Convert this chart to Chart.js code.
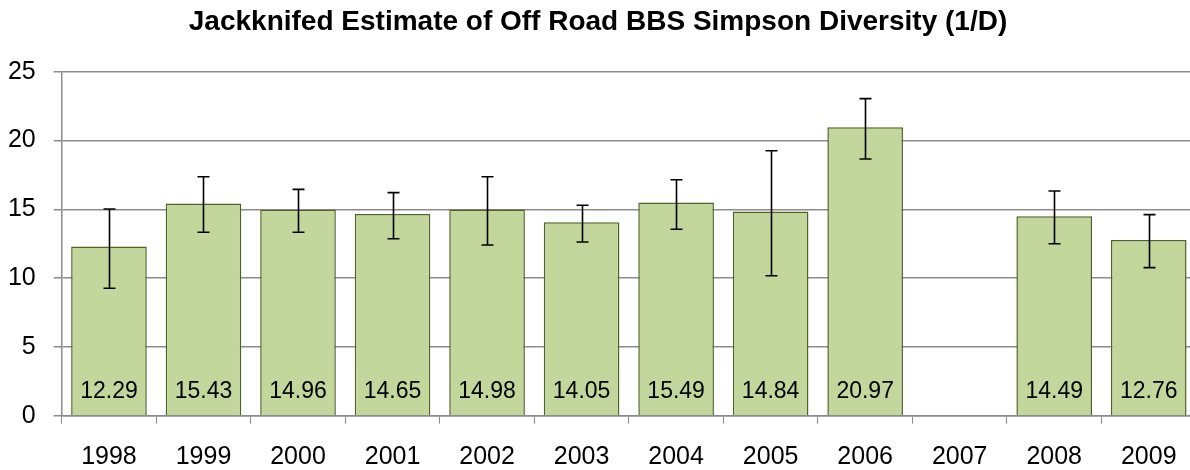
<!DOCTYPE html>
<html>
<head>
<meta charset="utf-8">
<script src="https://cdn.jsdelivr.net/npm/chart.js@4.4.0/dist/chart.umd.min.js"></script>
<style>
  html, body { margin: 0; padding: 0; background: #fff; overflow: hidden; }
  #wrap { width: 1196px; height: 470px; }
</style>
</head>
<body>
<div id="wrap"><canvas id="diversity-chart" width="1196" height="470"></canvas></div>
<script>
// Data
const years = ['1998', '1999', '2000', '2001', '2002', '2003', '2004', '2005', '2006', '2007', '2008', '2009'];
const diversity = [12.29, 15.43, 14.96, 14.65, 14.98, 14.05, 15.49, 14.84, 20.97, null, 14.49, 12.76];
const errorLow  = [9.26, 13.33, 13.33, 12.86, 12.41, 12.62, 13.55, 10.17, 18.66, null, 12.50, 10.76];
const errorHigh = [15.02, 17.37, 16.45, 16.21, 17.37, 15.29, 17.15, 19.26, 23.04, null, 16.33, 14.61];
const yTicks = [0, 5, 10, 15, 20, 25];

const FONT = "'Liberation Sans', Arial, sans-serif";
const GRID = '#8c8c8c';

// Error bars drawn through the chart scales
const errorBars = {
    id: 'errorBars',
    afterDatasetsDraw(chart) {
        const ctx = chart.ctx;
        const x = chart.scales.x;
        const y = chart.scales.y;
        ctx.save();
        ctx.strokeStyle = '#000';
        ctx.lineWidth = 1.6;
        errorLow.forEach((lo, i) => {
            if (lo === null) return;
            const cx = Math.round(x.getPixelForValue(i)) + 0.5;
            const yLo = y.getPixelForValue(lo);
            const yHi = y.getPixelForValue(errorHigh[i]);
            ctx.beginPath();
            ctx.moveTo(cx, yLo);
            ctx.lineTo(cx, yHi);
            ctx.moveTo(cx - 6, yLo);
            ctx.lineTo(cx + 6, yLo);
            ctx.moveTo(cx - 6, yHi);
            ctx.lineTo(cx + 6, yHi);
            ctx.stroke();
        });
        ctx.restore();
    }
};

// Value labels at the foot of each bar
const valueLabels = {
    id: 'valueLabels',
    afterDatasetsDraw(chart) {
        const ctx = chart.ctx;
        const x = chart.scales.x;
        const y = chart.scales.y;
        ctx.save();
        ctx.font = '23px ' + FONT;
        ctx.fillStyle = '#000';
        ctx.textAlign = 'center';
        ctx.textBaseline = 'middle';
        diversity.forEach((v, i) => {
            if (v === null) return;
            ctx.fillText(v.toFixed(2), x.getPixelForValue(i), y.getPixelForValue(0) - 24);
        });
        ctx.restore();
    }
};

new Chart(document.getElementById('diversity-chart'), {
    type: 'bar',
    data: {
        labels: years,
        datasets: [{
            label: 'Simpson Diversity (1/D)',
            data: diversity,
            backgroundColor: '#C3D69B',
            borderColor: '#4F6228',
            borderWidth: 1.5,
            categoryPercentage: 1,
            barPercentage: 0.8
        }]
    },
    options: {
        responsive: false,
        animation: false,
        devicePixelRatio: 1,
        layout: { padding: { left: 0, right: 0, top: 0, bottom: 0 } },
        plugins: {
            legend: { display: false },
            tooltip: { enabled: false },
            title: {
                display: true,
                text: 'Jackknifed Estimate of Off Road BBS Simpson Diversity (1/D)',
                color: '#000',
                font: { family: FONT, size: 28, weight: 'bold' },
                padding: { top: 5, bottom: 33.1 }
            }
        },
        scales: {
            x: {
                afterFit(scale) { scale.height = 54.3; },
                grid: {
                    offset: true,
                    drawOnChartArea: false,
                    color: GRID,
                    tickLength: 8
                },
                border: { color: GRID, width: 1.5 },
                ticks: {
                    color: '#000',
                    font: { family: FONT, size: 25 },
                    padding: 18,
                    maxRotation: 0,
                    autoSkip: false
                }
            },
            y: {
                min: 0,
                max: 25,
                afterFit(scale) { scale.width = 61.7; },
                afterBuildTicks(scale) { scale.ticks = yTicks.map(v => ({ value: v })); },
                grid: { color: GRID, lineWidth: 1.5, tickLength: 8 },
                border: { color: GRID, width: 1.5 },
                ticks: {
                    color: '#000',
                    font: { family: FONT, size: 25 },
                    padding: 18
                }
            }
        }
    },
    plugins: [errorBars, valueLabels]
});
</script>
</body>
</html>
